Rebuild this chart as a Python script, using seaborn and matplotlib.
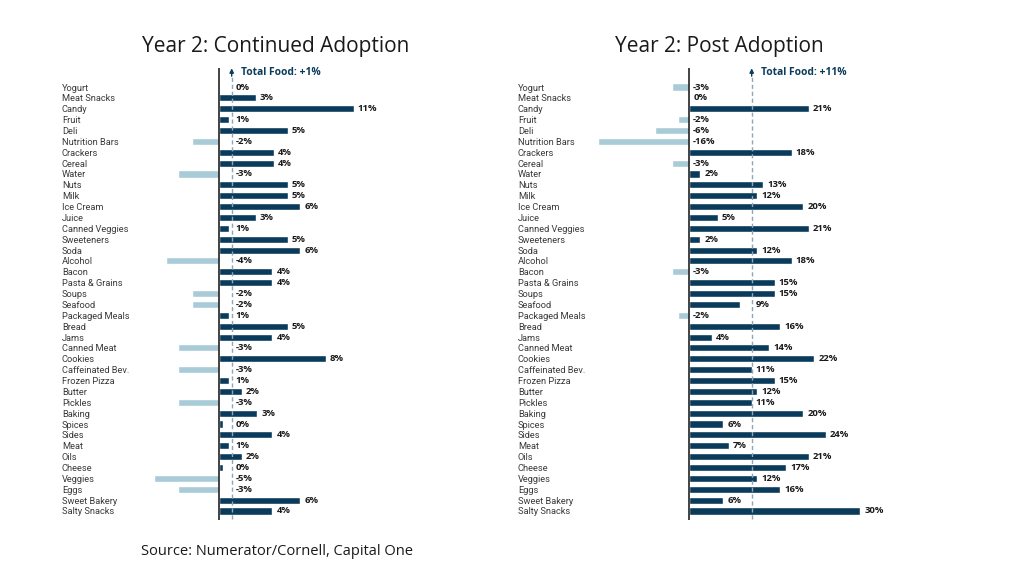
import pandas as pd
import matplotlib
matplotlib.use("Agg")
import matplotlib.pyplot as plt
import seaborn as sns

categories = [
    "Yogurt", "Meat Snacks", "Candy", "Fruit", "Deli", "Nutrition Bars",
    "Crackers", "Cereal", "Water", "Nuts", "Milk", "Ice Cream", "Juice",
    "Canned Veggies", "Sweeteners", "Soda", "Alcohol", "Bacon",
    "Pasta & Grains", "Soups", "Seafood", "Packaged Meals", "Bread", "Jams",
    "Canned Meat", "Cookies", "Caffeinated Bev.", "Frozen Pizza", "Butter",
    "Pickles", "Baking", "Spices", "Sides", "Meat", "Oils", "Cheese",
    "Veggies", "Eggs", "Sweet Bakery", "Salty Snacks",
]

# % change in spend, year 2, households that kept using GLP-1
continued = [
    0.0, 2.9, 10.6, 0.8, 5.4, -2.1, 4.3, 4.3, -3.2, 5.4, 5.4, 6.4, 2.9,
    0.8, 5.4, 6.4, -4.2, 4.2, 4.2, -2.1, -2.1, 0.8, 5.4, 4.2,
    -3.2, 8.4, -3.2, 0.8, 1.8, -3.2, 3.0, 0.3, 4.2, 0.8, 1.8, 0.3,
    -5.1, -3.2, 6.4, 4.2,
]
# % change in spend, year 2, households that stopped
post = [
    -3, 0, 21, -2, -6, -16, 18, -3, 2, 13, 12, 20, 5,
    21, 2, 12, 18, -3, 15, 15, 9, -2, 16, 4,
    14, 22, 11, 15, 12, 11, 20, 6, 24, 7, 21, 17,
    12, 16, 6, 30,
]
total_continued = 1
total_post = 11

titles = ["Year 2: Continued Adoption", "Year 2: Post Adoption"]
source = "Source: Numerator/Cornell, Capital One"

NAVY = "#0b3b5b"
LIGHT = "#a9cbd8"
DASH = "#8da6b8"

sns.set_theme(style="white")
plt.rcParams["font.family"] = ["Open Sans", "DejaVu Sans"]

W, H = 1023, 583
fig = plt.figure(figsize=(W / 100, H / 100), dpi=100)


def px_axes(x0, x1, y0, y1):
    return fig.add_axes([x0 / W, 1 - y1 / H, (x1 - x0) / W, (y1 - y0) / H])


def draw_panel(ax, values, total, xlim, label_pad, thr):
    df = pd.DataFrame({"category": categories, "value": values})
    df["dir"] = ["up" if v >= 0 else "down" for v in df["value"]]
    sns.barplot(data=df, x="value", y="category", hue="dir",
                palette={"up": NAVY, "down": LIGHT}, dodge=False,
                legend=False, width=0.65, orient="h", saturation=1, ax=ax)
    n = len(categories)
    ax.set_xlim(*xlim)
    ax.set_ylim(n - 1 + 0.83, -1.75)
    ax.axvline(0, color="#222222", lw=1.2, zorder=3)
    ax.plot([total, total], [n - 1 + 0.7, -0.95], color=DASH, lw=1,
            ls=(0, (3, 2)), zorder=1)
    ax.annotate("", xy=(total, -1.72), xytext=(total, -1.0),
                arrowprops=dict(arrowstyle="-|>", color=NAVY, lw=1,
                                mutation_scale=6, shrinkA=0, shrinkB=0))
    ax.annotate(f"Total Food: +{total}%", xy=(total, -1.3),
                xytext=(6.5, 0), textcoords="offset points", ha="left",
                va="center", fontsize=7.4, fontweight="bold", color=NAVY)

    for i, v in enumerate(values):
        x = max(v, 0)
        if total - thr < x < total:
            x = total
        ax.annotate(f"{int(round(v))}%", xy=(x, i), xytext=(3, 0),
                    textcoords="offset points", ha="left", va="center",
                    fontsize=6.8, fontweight="bold", color="#1a1a1a")

    ax.set_yticks(range(n))
    ax.set_yticklabels(categories, ha="left", fontsize=6.7, color="#3a3a3a",
                       family=["Roboto", "DejaVu Sans"])
    ax.tick_params(axis="y", length=0, pad=label_pad)
    ax.set_xticks([])
    ax.set_xlabel("")
    ax.set_ylabel("")
    for s in ax.spines.values():
        s.set_visible(False)
    ax.patch.set_alpha(0)


ax1 = px_axes(150, 390, 68, 520)
draw_panel(ax1, continued, total_continued,
           ((150 - 219) / 12.7, (390 - 219) / 12.7), (150 - 62) * 0.72, 1.6)

ax2 = px_axes(590, 880, 68, 520)
draw_panel(ax2, post, total_post,
           ((590 - 689) / 5.7, (880 - 689) / 5.7), (590 - 518) * 0.72, 3.5)

fig.text(276 / W, 1 - 52 / H, titles[0], ha="center", va="baseline",
         fontsize=15, color="#1a1a1a")
fig.text(719 / W, 1 - 52 / H, titles[1], ha="center", va="baseline",
         fontsize=15, color="#1a1a1a")
fig.text(141 / W, 1 - 555 / H, source, ha="left", va="baseline",
         fontsize=10.5, color="#1a1a1a")

fig.savefig("out.png", dpi=100)
